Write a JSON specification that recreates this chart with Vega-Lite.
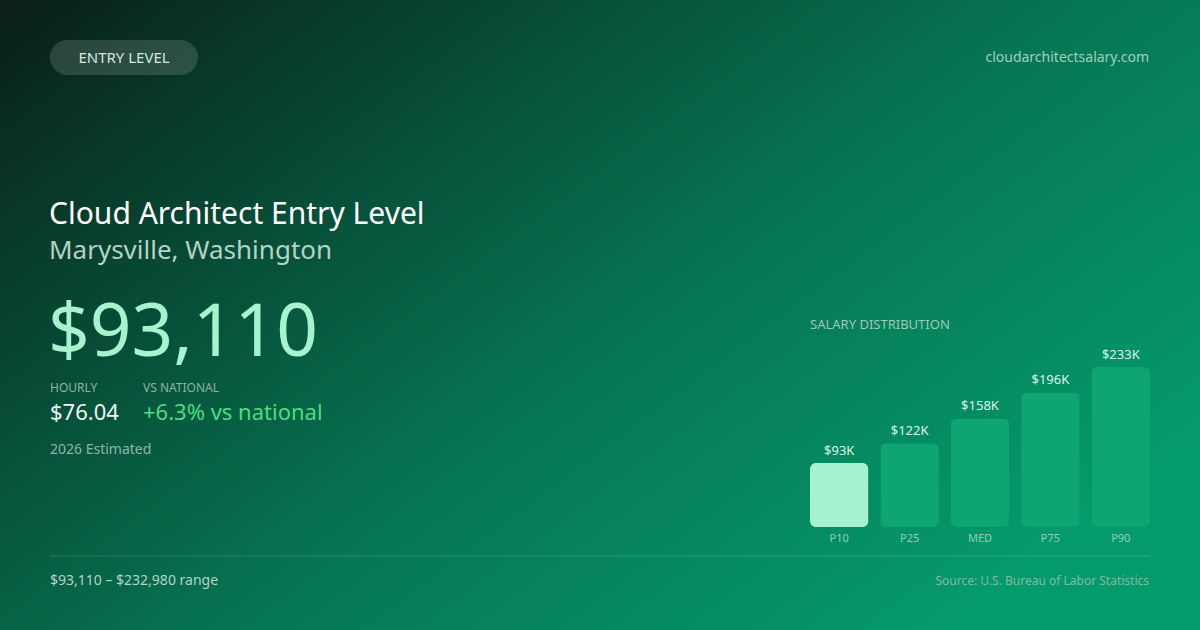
{
  "$schema": "https://vega.github.io/schema/vega-lite/v6.json",
  "width": 1200,
  "height": 630,
  "padding": 0,
  "autosize": {"type": "fit", "contains": "padding"},
  "background": "#06694a",
  "config": {
    "view": {"stroke": null},
    "text": {"font": "Noto Sans"}
  },
  "datasets": {
    "salary": [
      {"pct": "P10", "salary": 93110},
      {"pct": "P25", "salary": 122000},
      {"pct": "MED", "salary": 158000},
      {"pct": "P75", "salary": 196000},
      {"pct": "P90", "salary": 232980}
    ]
  },
  "data": {"values": [{}]},
  "layer": [
    {
      "mark": {
        "type": "rect",
        "color": {
          "gradient": "linear",
          "x1": 0, "y1": 0, "x2": 1, "y2": 0.7,
          "stops": [
            {"offset": 0, "color": "#0a1f17"},
            {"offset": 0.3, "color": "#074a35"},
            {"offset": 0.6, "color": "#067553"},
            {"offset": 1, "color": "#059a6c"}
          ]
        }
      },
      "encoding": {
        "x": {"value": 0}, "x2": {"value": "width"},
        "y": {"value": 0}, "y2": {"value": "height"}
      }
    },
    {
      "mark": {"type": "rect", "color": "#ffffff", "opacity": 0.14, "cornerRadius": 17.5},
      "encoding": {
        "x": {"value": 50}, "x2": {"value": 198},
        "y": {"value": 40}, "y2": {"value": 75}
      }
    },
    {
      "mark": {"type": "text", "text": "ENTRY LEVEL", "fontSize": 15, "color": "#d4e6de", "align": "center", "baseline": "middle", "x": 124, "y": 58}
    },
    {
      "mark": {"type": "text", "text": "cloudarchitectsalary.com", "fontSize": 14, "color": "#a3cfbd", "align": "right", "baseline": "middle", "x": 1149, "y": 58}
    },
    {
      "mark": {"type": "text", "text": "Cloud Architect Entry Level", "fontSize": 30, "color": "#ffffff", "align": "left", "baseline": "alphabetic", "x": 49, "y": 224}
    },
    {
      "mark": {"type": "text", "text": "Marysville, Washington", "fontSize": 26, "color": "#b3d3c6", "align": "left", "baseline": "alphabetic", "x": 49, "y": 259}
    },
    {
      "mark": {"type": "text", "text": "$93,110", "fontSize": 73, "color": "#a7f3d0", "align": "left", "baseline": "alphabetic", "x": 48, "y": 356}
    },
    {
      "mark": {"type": "text", "text": "HOURLY", "fontSize": 12, "color": "#8fb3a5", "align": "left", "baseline": "alphabetic", "x": 50, "y": 392}
    },
    {
      "mark": {"type": "text", "text": "VS NATIONAL", "fontSize": 12, "color": "#8fb3a5", "align": "left", "baseline": "alphabetic", "x": 143, "y": 392}
    },
    {
      "mark": {"type": "text", "text": "$76.04", "fontSize": 22, "color": "#eef6f2", "align": "left", "baseline": "alphabetic", "x": 50, "y": 420}
    },
    {
      "mark": {"type": "text", "text": "+6.3% vs national", "fontSize": 22, "color": "#4ade80", "align": "left", "baseline": "alphabetic", "x": 143, "y": 420}
    },
    {
      "mark": {"type": "text", "text": "2026 Estimated", "fontSize": 14, "color": "#8fb3a5", "align": "left", "baseline": "alphabetic", "x": 50, "y": 454}
    },
    {
      "mark": {"type": "text", "text": "SALARY DISTRIBUTION", "fontSize": 13, "color": "#9ccab7", "align": "left", "baseline": "middle", "x": 810, "y": 325}
    },
    {
      "mark": {"type": "rule", "color": "#ffffff", "opacity": 0.15, "strokeWidth": 1},
      "encoding": {
        "x": {"value": 50}, "x2": {"value": 1150},
        "y": {"value": 556}
      }
    },
    {
      "mark": {"type": "text", "text": "$93,110 – $232,980 range", "fontSize": 14, "color": "#b5d3c6", "align": "left", "baseline": "middle", "x": 50, "y": 581}
    },
    {
      "mark": {"type": "text", "text": "Source: U.S. Bureau of Labor Statistics", "fontSize": 12, "color": "#80bba3", "align": "right", "baseline": "middle", "x": 1149, "y": 581}
    },
    {
      "data": {"name": "salary"},
      "transform": [
        {"calculate": "'$' + format(datum.salary / 1000, '.0f') + 'K'", "as": "label"}
      ],
      "encoding": {
        "x": {
          "field": "pct", "type": "nominal", "sort": null,
          "scale": {"range": [810, 1150], "paddingInner": 0.17, "paddingOuter": 0},
          "axis": null
        },
        "y": {
          "field": "salary", "type": "quantitative",
          "scale": {"domain": [0, 232980], "range": [527, 367], "nice": false, "zero": true},
          "axis": null
        }
      },
      "layer": [
        {
          "mark": {"type": "bar", "cornerRadius": 6},
          "encoding": {
            "color": {
              "condition": {"test": "datum.pct == 'P10'", "value": "#a7f3d0"},
              "value": "#0ea572"
            }
          }
        },
        {
          "mark": {"type": "text", "fontSize": 13, "color": "#d8f5e8", "baseline": "alphabetic", "dy": -8},
          "encoding": {"text": {"field": "label"}}
        },
        {
          "mark": {"type": "text", "fontSize": 11, "color": "#93cdb4", "baseline": "middle", "dy": 12},
          "encoding": {
            "y": {"datum": 0, "type": "quantitative"},
            "text": {"field": "pct"}
          }
        }
      ]
    }
  ]
}
